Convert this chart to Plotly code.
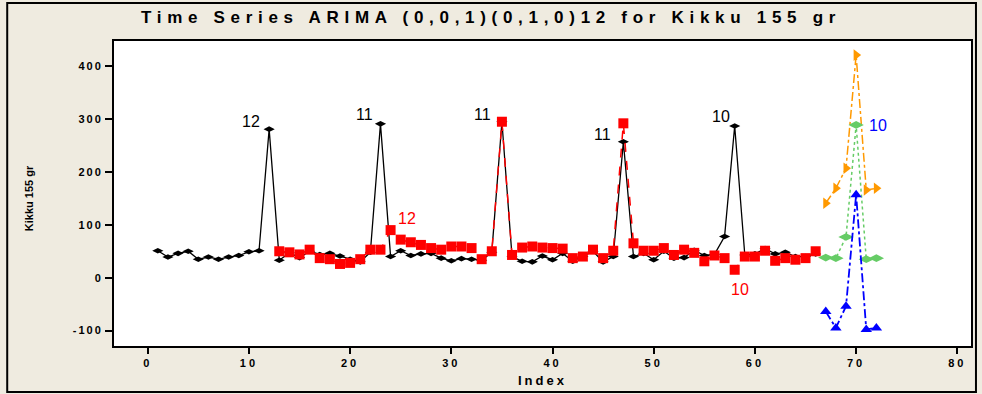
import plotly.graph_objects as go

# ---------------- data ----------------
actual_index = list(range(1, 67))
actual = [51, 39, 46, 50, 35, 39, 35, 39, 42, 49, 51, 281,
          33, 47, 38, 50, 44, 46, 41, 35, 30, 48, 291, 40,
          51, 42, 45, 46, 37, 32, 36, 35, 33, 48, 295, 40,
          31, 30, 41, 34, 46, 31, 40, 50, 30, 40, 257, 40,
          46, 34, 50, 37, 38, 52, 42, 44, 78, 287, 43, 45,
          55, 45, 48, 40, 40, 45]

fitted_index = list(range(13, 67))
fitted = [50, 48, 44, 53, 37, 35, 26, 28, 35, 53, 53, 90,
          72, 67, 62, 56, 53, 59, 59, 56, 35, 50, 295, 43,
          57, 59, 57, 56, 55, 37, 40, 53, 37, 51, 292, 65,
          51, 51, 56, 43, 53, 47, 31, 42, 37, 15, 40, 40,
          51, 32, 37, 34, 37, 50]

forecast_index = [67, 68, 69, 70, 71, 72]
forecast = [38, 37, 77, 289, 35, 37]
upper = [141, 169, 207, 421, 166, 169]
lower = [-64, -95, -54, 157, -98, -95]

x_ticks = [0, 10, 20, 30, 40, 50, 60, 70, 80]
y_ticks = [-100, 0, 100, 200, 300, 400]

TITLE = "Time Series ARIMA (0,0,1)(0,1,0)12 for Kikku 155 gr"
XTITLE = "Index"
YTITLE = "Kikku 155 gr"

# point labels: (index, text)
black_labels = [(12, "12"), (23, "11"), (35, "11"), (47, "11"), (58, "10")]
red_labels = [(24, "12"), (58, "10")]
blue_labels = [(70, "10")]

# ---------------- figure ----------------
fig = go.Figure()

fig.add_trace(go.Scatter(
    x=actual_index, y=actual, mode="lines+markers",
    line=dict(color="black", width=1.3),
    marker=dict(symbol="diamond-wide", size=8, color="black"),
    showlegend=False))

fig.add_trace(go.Scatter(
    x=fitted_index, y=fitted, mode="lines+markers",
    line=dict(color="#FF0000", width=1.5, dash="dash"),
    marker=dict(symbol="square", size=10, color="#FF0000"),
    showlegend=False))

fig.add_trace(go.Scatter(
    x=forecast_index, y=upper, mode="lines+markers",
    line=dict(color="#FF9900", width=1.5, dash="dashdot"),
    marker=dict(symbol="triangle-right", size=10, color="#FF9900"),
    showlegend=False))

fig.add_trace(go.Scatter(
    x=forecast_index, y=forecast, mode="lines+markers",
    line=dict(color="#66CC66", width=1.5, dash="dot"),
    marker=dict(symbol="diamond-wide", size=11, color="#66CC66"),
    showlegend=False))

fig.add_trace(go.Scatter(
    x=forecast_index, y=lower, mode="lines+markers",
    line=dict(color="#0000FF", width=1.8, dash="dashdot"),
    marker=dict(symbol="triangle-up", size=10, color="#0000FF"),
    showlegend=False))

lab_font = dict(family="Liberation Sans, Arial, sans-serif", size=16)

black_shift = {12: (-18, 8), 23: (-16, 9), 35: (-19, 7), 47: (-21, 7), 58: (-14, 9)}
for idx, txt in black_labels:
    v = actual[actual_index.index(idx)]
    dx, dy = black_shift[idx]
    fig.add_annotation(x=idx, y=v, text=txt, showarrow=False, xshift=dx, yshift=dy,
                       font=dict(lab_font, color="black"))

red_shift = {24: (16, 12), 58: (5, -20)}
for idx, txt in red_labels:
    v = fitted[fitted_index.index(idx)]
    dx, dy = red_shift[idx]
    fig.add_annotation(x=idx, y=v, text=txt, showarrow=False, xshift=dx, yshift=dy,
                       font=dict(lab_font, color="#FF0000"))

for idx, txt in blue_labels:
    v = forecast[forecast_index.index(idx)]
    fig.add_annotation(x=idx, y=v, text=txt, showarrow=False, xshift=22, yshift=-1,
                       font=dict(lab_font, color="#0000FF"))

bold_font = "Liberation Sans, Arial, sans-serif"


def spaced(t, px):
    return f"<span style='letter-spacing:{px}px'><b>{t}</b></span>"


# axis titles
fig.add_annotation(xref="paper", yref="paper", x=0.5, y=-0.112, text=spaced(XTITLE, 3),
                   showarrow=False, yanchor="middle",
                   font=dict(family=bold_font, size=13, color="black"))
fig.add_annotation(xref="paper", yref="paper", x=-0.099, y=0.485, text=f"<b>{YTITLE}</b>",
                   showarrow=False, textangle=-90, xanchor="center", yanchor="middle",
                   font=dict(family=bold_font, size=11, color="black"))

# outer frame
fig.add_shape(type="rect", xref="paper", yref="paper",
              x0=-0.1246, x1=1.0058, y0=-0.1508, y1=1.1246,
              line=dict(color="black", width=2), layer="below")

fig.update_layout(
    width=982, height=394,
    margin=dict(l=114, r=9, t=41, b=48),
    paper_bgcolor="#EFEBE0",
    plot_bgcolor="white",
    title=dict(text=spaced(TITLE, 5.7), x=0.5, xref="container", xanchor="center",
               y=1 - 17 / 394, yref="container", yanchor="middle",
               font=dict(family=bold_font, size=17, color="black")),
    xaxis=dict(range=[-3.33, 81.35], tickvals=x_ticks,
               ticktext=[spaced(str(t), 3) for t in x_ticks],
               showgrid=False, zeroline=False, showline=True, linecolor="black",
               linewidth=2, mirror=True, ticks="outside", ticklen=6, tickwidth=1.5,
               tickcolor="black",
               tickfont=dict(family=bold_font, size=11, color="black")),
    yaxis=dict(range=[-129.2, 447.7], tickvals=y_ticks,
               ticktext=[spaced(str(t), 2) for t in y_ticks],
               showgrid=False, zeroline=False, showline=True, linecolor="black",
               linewidth=2, mirror=True, ticks="outside", ticklen=7, tickwidth=1.5,
               tickcolor="black",
               tickfont=dict(family=bold_font, size=11, color="black")),
)

fig.write_html("out.html", config={"displayModeBar": False},
               post_script="document.body.style.margin='0';document.body.style.overflow='hidden';")
